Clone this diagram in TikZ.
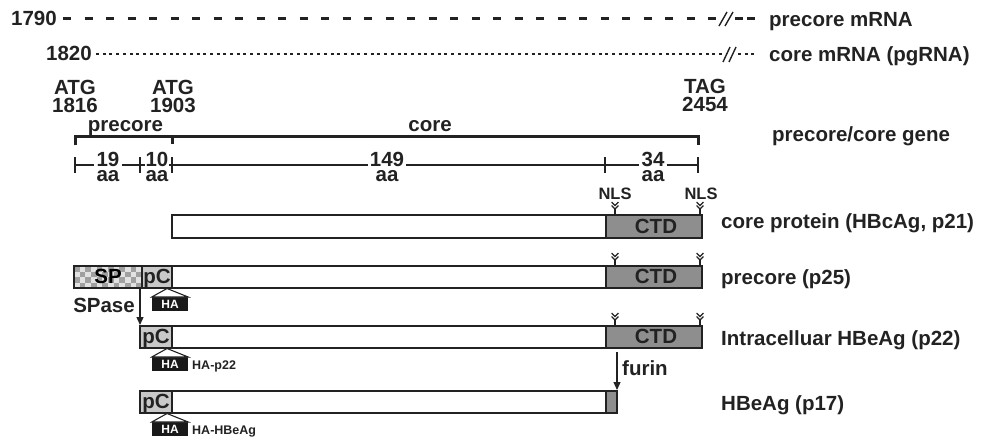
\documentclass[tikz,border=0pt]{standalone}
\usepackage{fontspec}
\setmainfont{Liberation Sans}
\usetikzlibrary{arrows.meta}
\definecolor{txt}{HTML}{222222}
\definecolor{ctdgray}{HTML}{8E8E8E}
\definecolor{pcgray}{HTML}{C9C9C9}
\definecolor{chkdark}{HTML}{A0A0A0}
\definecolor{chklight}{HTML}{E2E2E2}
\begin{document}
\begin{tikzpicture}[x=1pt,y=-1pt,
  lbl/.style={inner sep=0pt,text=txt,font=\fontsize{20.5}{24}\selectfont\bfseries},
  sml/.style={inner sep=0pt,text=txt,font=\fontsize{16.5}{19}\selectfont\bfseries},
  tiny/.style={inner sep=0pt,text=txt,font=\fontsize{12.5}{15}\selectfont\bfseries},
  num/.style={inner xsep=2pt,inner ysep=0pt,text=txt,align=center,anchor=north,
    font=\fontsize{20.5}{15}\selectfont\bfseries},
  bar/.style={draw=txt,line width=1.4pt,fill=white},
  ctd/.style={draw=txt,line width=1.4pt,fill=ctdgray},
  pc/.style={draw=txt,line width=1.4pt,fill=pcgray},
  gene/.style={draw=txt,line width=3pt},
  aaline/.style={draw=txt,line width=1.1pt},
  arr/.style={draw=txt,line width=1.3pt,-{Triangle[length=8pt,width=7pt]}},
  hatag/.style={fill=black!90,text=white,inner sep=0pt,minimum width=36pt,minimum height=14pt,font=\fontsize{12}{14}\selectfont\bfseries},
  slash/.style={draw=txt,line width=1.4pt}
]
\useasboundingbox (0,0) rectangle (981,438);

% ---------- mRNA lines ----------
\node[lbl,anchor=base east] (n1790) at (57,26) {1790};
\coordinate (d1s) at (63,18.5);
\coordinate (d1e) at (718,18.5);
\draw[txt,line width=3pt,dash pattern=on 8pt off 13.5pt] (d1s) -- (d1e);
\draw[slash] (719,26) -- (727,12);
\draw[slash] (725,26) -- (733,12);
\coordinate (d2s) at (735,18.5);
\coordinate (d2e) at (758,18.5);
\draw[txt,line width=3pt,dash pattern=on 8pt off 4pt] (d2s) -- (d2e);
\node[lbl,anchor=base west] (premRNA) at (769,26.5) {precore mRNA};

\node[lbl,anchor=base east] (n1820) at (92,61) {1820};
\coordinate (o1s) at (96,54);
\coordinate (o1e) at (726,54);
\draw[txt,line width=2.6pt,dash pattern=on 3pt off 3.7pt] (o1s) -- (o1e);
\draw[slash] (723,62) -- (730,47);
\draw[slash] (729,62) -- (736,47);
\coordinate (o2s) at (738,54);
\coordinate (o2e) at (758,54);
\draw[txt,line width=2.6pt,dash pattern=on 3pt off 3.7pt] (o2s) -- (o2e);
\node[lbl,anchor=base west] (coremRNA) at (769,61.5) {core mRNA (pgRNA)};

% ---------- codons ----------
\node[lbl,anchor=base] (atg1) at (75,95) {ATG};
\node[lbl,anchor=base] (p1816) at (75,113) {1816};
\node[lbl,anchor=base] (atg2) at (173,95) {ATG};
\node[lbl,anchor=base] (p1903) at (173,113) {1903};
\node[lbl,anchor=base] (tag) at (705,94) {TAG};
\node[lbl,anchor=base] (p2454) at (705,112) {2454};

% ---------- gene line ----------
\coordinate (g0) at (75,136.5);
\coordinate (g1) at (172,136.5);
\coordinate (g2) at (698,136.5);
\draw[gene] ([yshift=-9pt]g0) -- (g0) -- (g2) -- ([yshift=-9pt]g2);
\draw[gene] (g1) -- ([yshift=-8pt]g1);
\node[lbl,anchor=base] (precorelbl) at (125.5,132) {precore};
\node[lbl,anchor=base] (corelbl) at (430,132) {core};
\node[lbl,anchor=base west] (genelbl) at (772,142) {precore/core gene};

% ---------- aa scale ----------
\coordinate (s0) at (75,165);
\coordinate (s1) at (140,165);
\coordinate (s2) at (172,165);
\coordinate (s3) at (605,165);
\coordinate (s4) at (698,165);
\node[num] (aa19) at (108,152.4) {19\\aa};
\node[num,inner xsep=0.5pt] (aa10) at (157,152.4) {10\\aa};
\node[num] (aa149) at (387,152.4) {149\\aa};
\node[num] (aa34) at (653,152.4) {34\\aa};
\draw[aaline] (s0) -- (aa19.west|-s0);
\draw[aaline] (aa19.east|-s0) -- (s1) -- (aa10.west|-s0);
\draw[aaline] (aa10.east|-s0) -- (s2) -- (aa149.west|-s0);
\draw[aaline] (aa149.east|-s0) -- (s3) -- (aa34.west|-s0);
\draw[aaline] (aa34.east|-s0) -- (s4);
\foreach \c in {s0,s1,s2,s3,s4}
  \draw[aaline] ([yshift=-8pt]\c) -- ([yshift=8pt]\c);

% ---------- NLS chevron macro ----------
\newcommand{\nlsmark}[2]{% x, bar top y
  \draw[txt,line width=1.2pt] (#1,#2) -- (#1,#2-6);
  \draw[txt,line width=1.2pt] (#1-3.4,#2-9.5) -- (#1,#2-6) -- (#1+3.4,#2-9.5);
  \draw[txt,line width=1.2pt] (#1-3.4,#2-13) -- (#1,#2-9.5) -- (#1+3.4,#2-13);
}

% ---------- core protein ----------
\node[sml,anchor=base] (nls1) at (615,200) {NLS};
\node[sml,anchor=base] (nls2) at (701,200) {NLS};
\draw[bar] (172,215) rectangle (606,238);
\draw[ctd] (606,215) rectangle (702,238);
\node[lbl,anchor=base] (ctd1) at (656,233.5) {CTD};
\nlsmark{615}{215}
\nlsmark{700}{215}
\node[lbl,anchor=base west] (corelab) at (721,229) {core protein (HBcAg, p21)};

% ---------- precore p25 ----------
\foreach \i in {0,...,11}
  \foreach \j in {0,...,3}{
    \pgfmathtruncatemacro{\chkpar}{mod(\i+\j,2)}
    \ifnum\chkpar=0
      \fill[chkdark] (74+\i*5.667,266+\j*5.5) rectangle ++(5.667,5.5);
    \else
      \fill[chklight] (74+\i*5.667,266+\j*5.5) rectangle ++(5.667,5.5);
    \fi
  }
\draw[txt,line width=1.4pt] (74,266) rectangle (142,288);
\node[lbl,anchor=base,text=black] (sp) at (108,283) {SP};
\draw[pc] (142,266) rectangle (172,288);
\node[lbl,anchor=base] (pc1) at (157,283) {pC};
\draw[bar] (172,266) rectangle (606,288);
\draw[ctd] (606,266) rectangle (702,288);
\node[lbl,anchor=base] (ctd2) at (656,283.5) {CTD};
\nlsmark{615}{266}
\nlsmark{700}{266}
\node[lbl,anchor=base west] (p25lab) at (721,284) {precore (p25)};
% HA tag
\node[hatag,anchor=north] (ha1) at (170,297) {HA};
\draw[txt,line width=1.1pt,fill=white] (ha1.north west) -- (167,288.5) -- (ha1.north east) -- cycle;

\node[lbl,anchor=base east] (spase) at (135,312) {SPase};
\coordinate (cut1a) at (140,288);
\coordinate (cut1b) at (140,325);
\draw[arr] (cut1a) -- (cut1b);

% ---------- intracellular p22 ----------
\draw[pc] (140,326) rectangle (172,348);
\node[lbl,anchor=base] (pc2) at (156,343) {pC};
\draw[bar] (172,326) rectangle (606,348);
\draw[ctd] (606,326) rectangle (702,348);
\node[lbl,anchor=base] (ctd3) at (656,343.5) {CTD};
\nlsmark{615}{326}
\nlsmark{700}{326}
\node[lbl,anchor=base west] (p22lab) at (721,345) {Intracelluar HBeAg (p22)};
\node[hatag,anchor=north] (ha2) at (170,357) {HA};
\draw[txt,line width=1.1pt,fill=white] (ha2.north west) -- (167,348.5) -- (ha2.north east) -- cycle;
\node[tiny,anchor=base west] (hap22) at (192,369) {HA-p22};

\coordinate (cut2a) at (617,352);
\coordinate (cut2b) at (617,390);
\draw[arr] (cut2a) -- (cut2b);
\node[lbl,anchor=base west] (furin) at (622,375) {furin};

% ---------- HBeAg p17 ----------
\draw[pc] (140,391) rectangle (172,413);
\node[lbl,anchor=base] (pc3) at (156,408) {pC};
\draw[bar] (172,391) rectangle (606,413);
\draw[ctd] (606,391) rectangle (617,413);
\node[lbl,anchor=base west] (p17lab) at (721,410) {HBeAg (p17)};
\node[hatag,anchor=north] (ha3) at (170,422) {HA};
\draw[txt,line width=1.1pt,fill=white] (ha3.north west) -- (167,413.5) -- (ha3.north east) -- cycle;
\node[tiny,anchor=base west] (hahbeag) at (192,434) {HA-HBeAg};
\end{tikzpicture}
\end{document}
